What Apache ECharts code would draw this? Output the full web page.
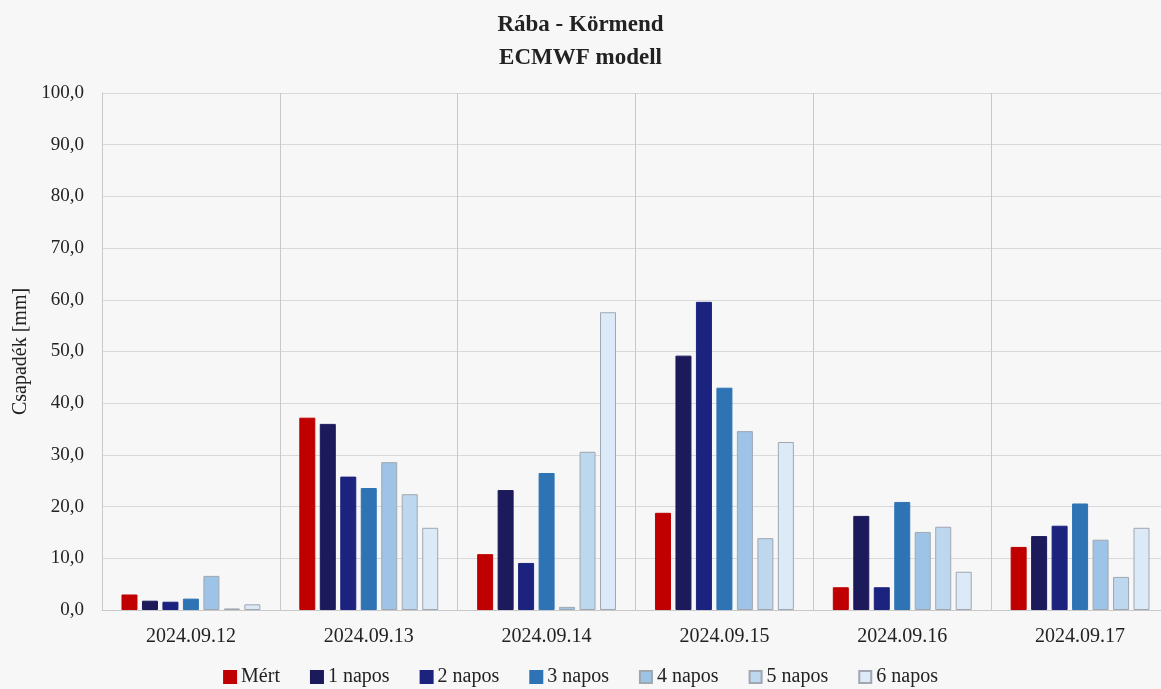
<!DOCTYPE html>
<html><head><meta charset="utf-8">
<script src="https://cdn.jsdelivr.net/npm/echarts@6/dist/echarts.min.js"></script>
<style>html,body{margin:0;padding:0;background:#f7f7f7}#c{width:1161px;height:689px}</style>
</head><body><div id="c"></div>
<script>
const categories = ['2024.09.12','2024.09.13','2024.09.14','2024.09.15','2024.09.16','2024.09.17'];
const seriesNames = ['Mért','1 napos','2 napos','3 napos','4 napos','5 napos','6 napos'];
const mert   = [3.0, 37.2, 10.8, 18.8, 4.4, 12.2];
const napos1 = [1.8, 36.0, 23.2, 49.2, 18.2, 14.3];
const napos2 = [1.6, 25.8, 9.1, 59.6, 4.4, 16.3];
const napos3 = [2.2, 23.6, 26.5, 43.0, 20.9, 20.6];
const napos4 = [6.6, 28.6, 0.6, 34.6, 15.1, 13.6];
const napos5 = [0.3, 22.4, 30.6, 13.9, 16.1, 6.4];
const napos6 = [1.1, 15.9, 57.6, 32.5, 7.4, 15.9];
const yTicks = [0,10,20,30,40,50,60,70,80,90,100];

const colors = ['#c00000','#1c1a5a','#1b237e','#2e74b5','#9dc3e6','#bdd7ee','#dceaf7'];
const borders = ['#c00000','#1c1a5a','#1b237e','#2e74b5','#a0a7b0','#a0a7b0','#a0a7b0'];
const data = [mert,napos1,napos2,napos3,napos4,napos5,napos6];
const font = '"Liberation Serif","DejaVu Serif",serif';

const chart = echarts.init(document.getElementById('c'));
chart.setOption({
  backgroundColor:'#f7f7f7',
  animation:false,
  title:{text:'Rába - Körmend\nECMWF modell', left:'center', top:4,
    textStyle:{fontFamily:font,fontSize:23,fontWeight:'bold',color:'#222',lineHeight:33}},
  legend:{bottom:-3,left:'center',itemWidth:12,itemHeight:12,itemGap:30,
    textStyle:{fontFamily:font,fontSize:20,color:'#222'},
    data:seriesNames.map(n=>({name:n,icon:'rect'}))},
  grid:{left:102,right:-8,top:93,bottom:79,outerBoundsMode:'none',containLabel:false},
  xAxis:{type:'category',data:categories,
    axisLine:{show:true,lineStyle:{color:'#c8c8c8'}},
    axisTick:{show:false},
    splitLine:{show:true,lineStyle:{color:'#c8c8c8',width:1}},
    axisLabel:{fontFamily:font,fontSize:20,color:'#222',margin:17}},
  yAxis:{type:'value',min:0,max:100,interval:10,
    name:'Csapadék [mm]',nameLocation:'middle',nameGap:71,
    nameTextStyle:{fontFamily:font,fontSize:20,color:'#222'},
    axisLine:{show:true,lineStyle:{color:'#c8c8c8'}},
    axisTick:{show:false},
    splitLine:{lineStyle:{color:'#d9d9d9'}},
    axisLabel:{fontFamily:font,fontSize:19,color:'#222',margin:18,
      formatter:v=>yTicks.includes(v)?v.toFixed(1).replace('.',','):''}},
  series:data.map((d,i)=>({
    name:seriesNames[i],type:'bar',data:d,barWidth:16,barGap:'28%',
    itemStyle:{color:colors[i],borderColor:borders[i],borderWidth:1}
  }))
});
</script></body></html>
